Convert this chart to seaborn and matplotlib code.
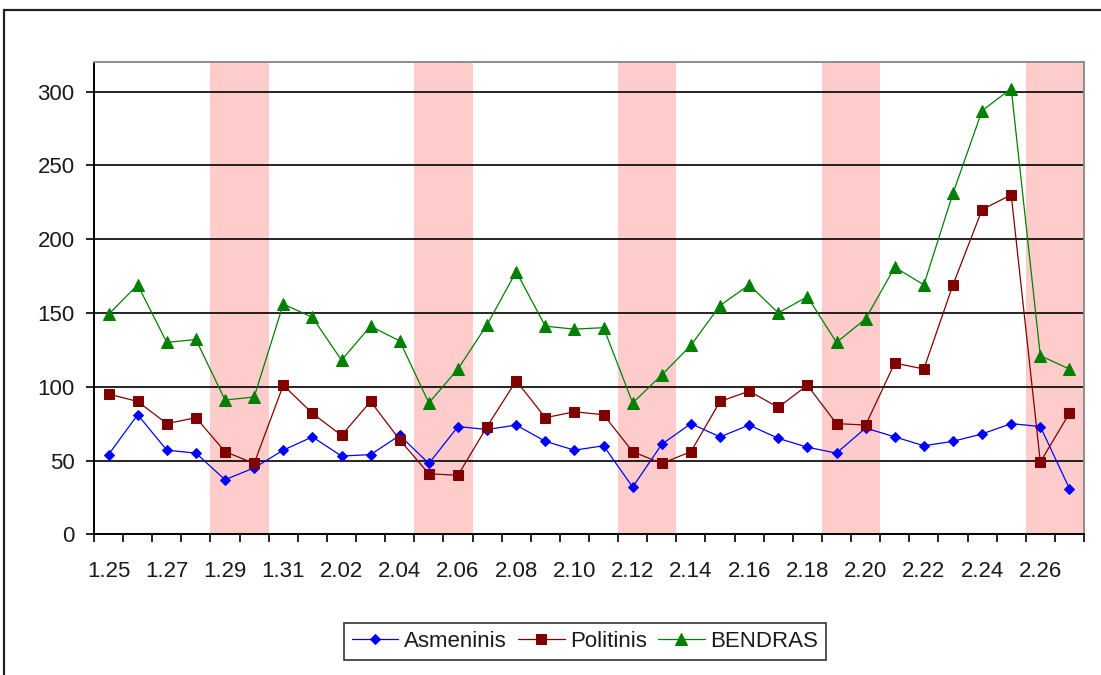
import matplotlib
matplotlib.use("Agg")
import matplotlib.pyplot as plt
from matplotlib.patches import Rectangle
import numpy as np
import pandas as pd
import seaborn as sns

# Daily counts, 25 January - 27 February
dates = ["1.25", "1.26", "1.27", "1.28", "1.29", "1.30", "1.31",
         "2.01", "2.02", "2.03", "2.04", "2.05", "2.06", "2.07", "2.08",
         "2.09", "2.10", "2.11", "2.12", "2.13", "2.14", "2.15", "2.16",
         "2.17", "2.18", "2.19", "2.20", "2.21", "2.22", "2.23", "2.24",
         "2.25", "2.26", "2.27"]
asmeninis = [54, 81, 57, 55, 37, 45, 57, 66, 53, 54, 67, 48, 73, 71, 74, 63, 57,
             60, 32, 61, 75, 66, 74, 65, 59, 55, 72, 66, 60, 63, 68, 75, 73, 31]
politinis = [95, 90, 75, 79, 56, 48, 101, 82, 67, 90, 64, 41, 40, 73, 104, 79, 83,
             81, 56, 48, 56, 90, 97, 86, 101, 75, 74, 116, 112, 169, 220, 230, 49, 82]
bendras = [149, 169, 130, 132, 91, 93, 156, 147, 118, 141, 131, 89, 112, 142, 178, 141, 139,
           140, 89, 108, 128, 155, 169, 150, 161, 130, 146, 181, 169, 231, 287, 302, 121, 112]
# Weekend days highlighted with shaded bands
weekends = ["1.29", "1.30", "2.05", "2.06", "2.12", "2.13",
            "2.19", "2.20", "2.26", "2.27"]
y_ticks = [0, 50, 100, 150, 200, 250, 300]

series = {"Asmeninis": asmeninis, "Politinis": politinis, "BENDRAS": bendras}
styles = {
    "Asmeninis": dict(color="#0000FF", marker="D", ms=5.5),
    "Politinis": dict(color="#800000", marker="s", ms=7.5),
    "BENDRAS": dict(color="#008000", marker="^", ms=8.5),
}

df = pd.DataFrame({
    "idx": np.tile(np.arange(len(dates)), len(series)),
    "value": np.concatenate([series[k] for k in series]),
    "series": np.repeat(list(series.keys()), len(dates)),
})

sns.set_theme(style="white")
plt.rcParams["font.family"] = ["Liberation Sans", "DejaVu Sans"]
fs = 16

fig = plt.figure(figsize=(11.01, 6.75), dpi=100)
ax = fig.add_axes([94 / 1101, 1 - 534.3 / 675, (1084 - 94) / 1101, (534.3 - 62) / 675])

# Outer chart frame
fig.patches.append(Rectangle((4 / 1101, -0.2), 1.2, 1.2 - 10 / 675,
                             transform=fig.transFigure, fill=False,
                             edgecolor="#222222", linewidth=1.6, zorder=0))

# Weekend bands
for d in weekends:
    i = dates.index(d)
    ax.axvspan(i - 0.5, i + 0.5, color="#FFCCCC", lw=0, zorder=0)

# Horizontal gridlines
for yv in y_ticks[1:]:
    ax.axhline(yv, color="black", lw=1.2, zorder=1)

for name in series:
    st = styles[name]
    sub = df[df["series"] == name]
    sns.lineplot(data=sub, x="idx", y="value", ax=ax, color=st["color"],
                 marker=st["marker"], markersize=st["ms"], markeredgecolor=st["color"],
                 markerfacecolor=st["color"], linewidth=0.9, label=name, zorder=3)

ax.set_xlim(-0.5, len(dates) - 0.5)
ax.set_ylim(0, 320)
ax.set_xlabel("")
ax.set_ylabel("")

ax.set_yticks(y_ticks)
ax.set_yticklabels([str(v) for v in y_ticks])
ax.tick_params(axis="y", direction="out", length=6, width=1.2, color="black",
               pad=8, labelsize=fs, left=True, labelcolor="#1a1a1a")

ax.set_xticks(np.arange(0, len(dates), 2))
ax.set_xticklabels(dates[::2])
ax.set_xticks(np.arange(-0.5, len(dates), 1), minor=True)
ax.tick_params(axis="x", which="major", length=0, pad=19, labelsize=fs, labelcolor="#1a1a1a")
ax.tick_params(axis="x", which="minor", direction="out", length=6, width=1.2,
               color="black", bottom=True)

for side in ["left", "bottom"]:
    ax.spines[side].set_color("black")
    ax.spines[side].set_linewidth(1.4)
for side in ["top", "right"]:
    ax.spines[side].set_color("#8C8C8C")
    ax.spines[side].set_linewidth(1.4)

ax.get_legend().remove()
handles, labels = ax.get_legend_handles_labels()
leg = fig.legend(handles, labels, loc="center", bbox_to_anchor=(585 / 1101, 1 - 641.5 / 675),
                 ncol=3, frameon=True, fancybox=False, fontsize=fs, handlelength=2.1,
                 columnspacing=0.5, handletextpad=0.25, borderpad=0.35)
leg.get_frame().set_edgecolor("black")
leg.get_frame().set_linewidth(1.2)
for t in leg.get_texts():
    t.set_color("#1a1a1a")

fig.savefig("out.png", dpi=100)
